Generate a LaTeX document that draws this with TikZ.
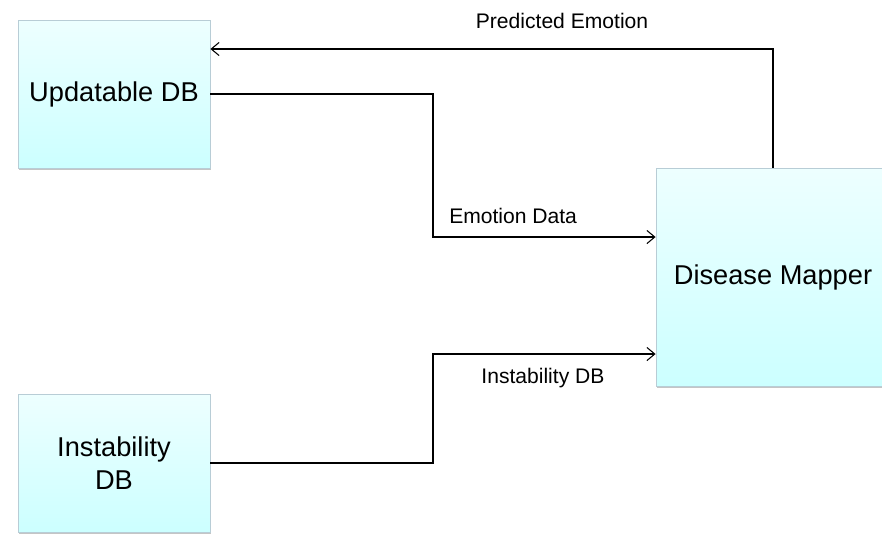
\documentclass[tikz,border=0pt]{standalone}
\usepackage{fontspec}
\setmainfont{Liberation Sans}
\usepackage{tikz}
\usetikzlibrary{arrows.meta,calc,shadows,positioning}

\tikzset{
  dbbox/.style={rectangle, draw=cyan!30!gray!50, line width=0.5pt,
    top color=cyan!7, bottom color=cyan!20, inner sep=0pt,
    drop shadow={shadow xshift=0.6pt, shadow yshift=-1.2pt, opacity=0.45, fill=gray},
    font=\fontsize{15.5}{18.5}\selectfont, align=center},
  flowlabel/.style={font=\fontsize{12}{14}\selectfont, inner sep=3pt}
}

\begin{document}
\begin{tikzpicture}[x=0.02cm, y=-0.02cm, line width=0.6pt,
    >={Straight Barb[length=4.5pt, width=7.5pt]}]
   \clip (0,0) rectangle (882,535);
   \fill[white] (0,0) rectangle (882,535);
   \begin{scope}[every node/.style={dbbox}]
    \node (udb) [minimum width=3.84cm, minimum height=2.96cm] at (114,94) {Updatable DB};
    \node (idb) [minimum width=3.84cm, minimum height=2.76cm] at (114,463) {Instability\\DB};
    \node (dm)  [minimum width=4.68cm, minimum height=4.36cm] at (773,277) {Disease Mapper};
   \end{scope}
   \begin{scope}[->, every node/.style={flowlabel}]
    \draw (dm.north) |- node[pos=0.6875, above=8pt] (lblpred) {Predicted Emotion} ($(udb.east)+(0,-45)$);
    \draw (udb.east) -- (433,94) |- node[pos=0.68, above=4pt] (lbledata) {Emotion Data} ($(dm.west)+(0,-40)$);
    \draw (idb.east) -- (433,463) |- node[pos=0.747, below=5pt] (lblidb) {Instability DB} ($(dm.west)+(0,77)$);
   \end{scope}
\end{tikzpicture}
\end{document}
